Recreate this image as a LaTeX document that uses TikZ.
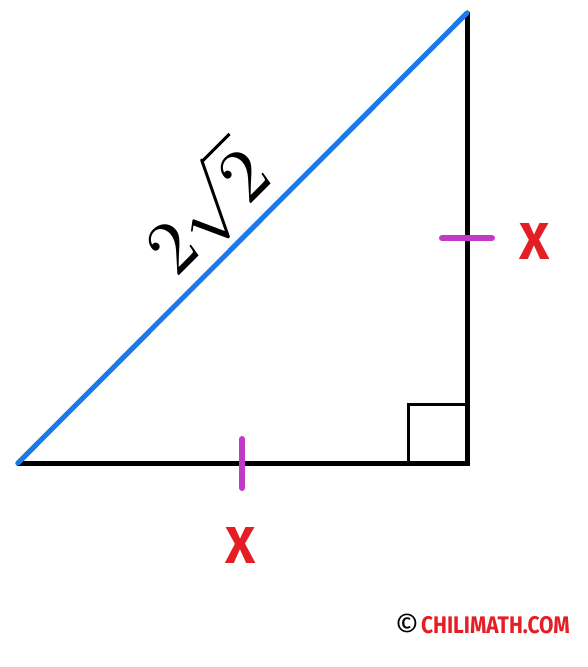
\documentclass[tikz,border=0pt]{standalone}
\usepackage{fontspec}
\newfontfamily\labelfont{Fira Sans}
\definecolor{hypblue}{HTML}{1A7BE8}
\definecolor{tickpink}{HTML}{C23BC8}
\definecolor{markred}{HTML}{E41E25}
\tikzset{
  leg/.style={line width=5pt},
  hyp/.style={line width=5pt, draw=hypblue},
  tick/.style={line width=6pt, draw=tickpink, line cap=round},
  xlabel/.style={text=markred, font=\labelfont\bfseries\fontsize{52}{52}\selectfont, inner sep=0pt}
}
\begin{document}
\begin{tikzpicture}[x=1pt,y=-1pt]
\useasboundingbox (0,0) rectangle (588,667);
\coordinate (A) at (18,463);
\coordinate (C) at (467,463);
\coordinate (B) at (467,13);
\draw[line width=3pt] (408,463) -- (408,404) -- (467,404);
\draw[leg,line cap=round] (A) -- (C) -- (B);
\draw[hyp,line cap=round] (A) -- (B);
\draw[tick] (242,439) -- (242,488);
\draw[tick] (442,238) -- (492,238);
\node[xlabel] (xa) at (241,545) {X};
\node[xlabel] (xb) at (535,241) {X};
\node[rotate=45, inner sep=0pt] (len) at (205,208) {\scalebox{7.6}{$2\sqrt{2}$}};
\node[inner sep=0pt, font=\labelfont\fontsize{30}{30}\selectfont] (copy) at (407,625) {©};
\node[anchor=west, inner sep=0pt, text=markred, font=\labelfont\bfseries\fontsize{24}{24}\selectfont, xscale=0.87] (cr) at (421,625) {CHILIMATH.COM};
\end{tikzpicture}
\end{document}
